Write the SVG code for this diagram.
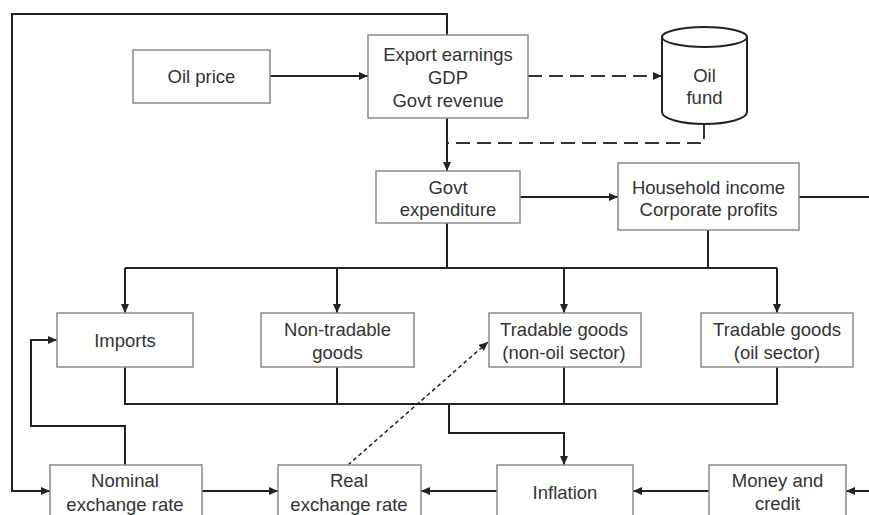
<svg xmlns="http://www.w3.org/2000/svg" width="869" height="515" viewBox="0 0 869 515">
<style>
.box{fill:#fff;stroke:#8a8a8a;stroke-width:1.5}
.t{font-family:"Liberation Sans",Arial,sans-serif;font-size:18.5px;fill:#333;text-anchor:middle;dominant-baseline:central}
.c{fill:none;stroke:#222;stroke-width:2}
.dl{fill:none;stroke:#333;stroke-width:2;stroke-dasharray:14 7}
.ds{fill:none;stroke:#222;stroke-width:1.5;stroke-dasharray:4 3}
</style>
<defs>
<marker id="a" markerUnits="userSpaceOnUse" markerWidth="9" markerHeight="8" refX="9" refY="4" orient="auto"><path d="M0,0 L9,4 L0,8 z" fill="#222"/></marker>
</defs>
<rect width="869" height="515" fill="#fff"/>
<g id="connectors">
<path class="c" d="M270,76 H368" marker-end="url(#a)"/>
<path class="dl" d="M528,76 H662" marker-end="url(#a)"/>
<path class="c" d="M447,118 V171" marker-end="url(#a)"/>
<path class="dl" d="M704,125 V143 H447"/>
<path class="c" d="M520,197 H618" marker-end="url(#a)"/>
<path class="c" d="M799,197 H869"/>
<path class="c" d="M447,35 V14 H12 V491 H50" marker-end="url(#a)"/>
<path class="c" d="M447,223 V268"/>
<path class="c" d="M708,230 V268"/>
<path class="c" d="M125,268 H777"/>
<path class="c" d="M125,268 V313" marker-end="url(#a)"/>
<path class="c" d="M337,268 V313" marker-end="url(#a)"/>
<path class="c" d="M564,268 V313" marker-end="url(#a)"/>
<path class="c" d="M777,268 V313" marker-end="url(#a)"/>
<path class="c" d="M125,367 V404 H777 V367"/>
<path class="c" d="M337,367 V404"/>
<path class="c" d="M564,367 V404"/>
<path class="c" d="M449,404 V433 H564 V465" marker-end="url(#a)"/>
<path class="c" d="M125,465 V426 H31 V340 H57" marker-end="url(#a)"/>
<path class="c" d="M202,491 H278" marker-end="url(#a)"/>
<path class="c" d="M497,491 H421" marker-end="url(#a)"/>
<path class="c" d="M709,491 H633" marker-end="url(#a)"/>
<path class="c" d="M869,491 H846" marker-end="url(#a)"/>
<path class="ds" d="M348,465 L488,342" marker-end="url(#a)"/>
</g>
<g id="oil-price"><rect class="box" x="133" y="50" width="137" height="53"/><text class="t" x="201.5" y="76.5">Oil price</text></g>
<g id="export"><rect class="box" x="368" y="35" width="160" height="83"/><text class="t" x="448" y="54">Export earnings</text><text class="t" x="448" y="77">GDP</text><text class="t" x="448" y="100">Govt revenue</text></g>
<g id="oil-fund">
<path d="M662,37 V112 A42.5,12 0 0 0 747,112 V37" fill="#fff" stroke="#222" stroke-width="2"/>
<ellipse cx="704.5" cy="37" rx="42.5" ry="10" fill="#fff" stroke="#222" stroke-width="2"/>
<text class="t" x="704.5" y="75">Oil</text><text class="t" x="704.5" y="97">fund</text></g>
<g id="govt-exp"><rect class="box" x="376" y="171" width="144" height="52"/><text class="t" x="448" y="187">Govt</text><text class="t" x="448" y="209">expenditure</text></g>
<g id="household"><rect class="box" x="618" y="163" width="181" height="67"/><text class="t" x="708.5" y="187">Household income</text><text class="t" x="708.5" y="209">Corporate profits</text></g>
<g id="imports"><rect class="box" x="57" y="313" width="136" height="54"/><text class="t" x="125" y="340">Imports</text></g>
<g id="non-tradable"><rect class="box" x="261" y="313" width="153" height="54"/><text class="t" x="337.5" y="329">Non-tradable</text><text class="t" x="337.5" y="352">goods</text></g>
<g id="tradable-non-oil"><rect class="box" x="489" y="313" width="152" height="54"/><text class="t" x="564" y="329">Tradable goods</text><text class="t" x="564" y="352">(non-oil sector)</text></g>
<g id="tradable-oil"><rect class="box" x="701" y="313" width="152" height="54"/><text class="t" x="777" y="329">Tradable goods</text><text class="t" x="777" y="352">(oil sector)</text></g>
<g id="nominal"><rect class="box" x="50" y="465" width="152" height="65"/><text class="t" x="125" y="480">Nominal</text><text class="t" x="125" y="504">exchange rate</text></g>
<g id="real"><rect class="box" x="278" y="465" width="143" height="65"/><text class="t" x="349" y="480">Real</text><text class="t" x="349" y="504">exchange rate</text></g>
<g id="inflation"><rect class="box" x="497" y="465" width="136" height="65"/><text class="t" x="565" y="492">Inflation</text></g>
<g id="money"><rect class="box" x="709" y="465" width="137" height="65"/><text class="t" x="777.5" y="480">Money and</text><text class="t" x="777.5" y="503">credit</text></g>
</svg>
